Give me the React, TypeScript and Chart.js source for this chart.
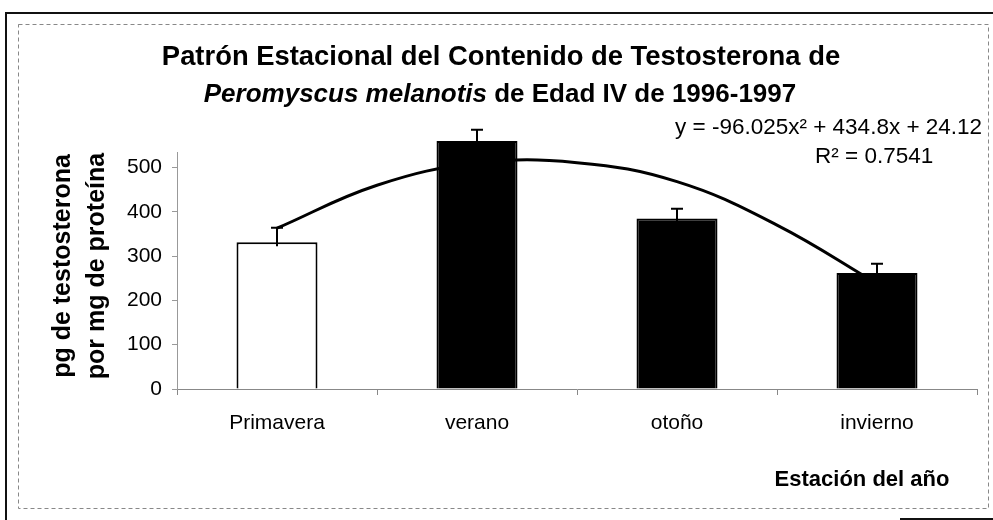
import React, { useEffect, useRef } from "react";
import { Chart, registerables } from "chart.js";

Chart.register(...registerables);

const categories = ["Primavera", "verano", "otoño", "invierno"];
const values = [331, 560, 385, 262];
const errors = [33, 25, 22, 21];
const barFills = ["#ffffff", "#000000", "#000000", "#000000"];
const trendX = [1, 1.5, 2, 2.5, 3, 3.5, 4];
const trendY = [363, 460, 510, 511, 468, 370, 238];
const yTicks = [0, 100, 200, 300, 400, 500];
const titleLine1 = "Patrón Estacional del Contenido de Testosterona de";
const titleItalic = "Peromyscus melanotis";
const titleRest = " de Edad IV de 1996-1997";
const yTitle = ["pg de testosterona", "por mg de proteína"];
const xTitle = "Estación del año";
const equation = "y = -96.025x² + 434.8x + 24.12";
const rSquared = "R² = 0.7541";

const FONT = '"Liberation Sans", Arial, sans-serif';

const decorPlugin = {
  id: "decor",
  beforeDraw(chart: any) {
    const ctx = chart.ctx;
    ctx.save();
    ctx.fillStyle = "#ffffff";
    ctx.fillRect(0, 0, chart.width, chart.height);
    ctx.strokeStyle = "#111";
    ctx.lineWidth = 2;
    ctx.beginPath();
    ctx.moveTo(6, 520);
    ctx.lineTo(6, 13);
    ctx.lineTo(993, 13);
    ctx.stroke();
    ctx.beginPath();
    ctx.moveTo(900, 519);
    ctx.lineTo(993, 519);
    ctx.stroke();
    ctx.strokeStyle = "#888";
    ctx.lineWidth = 1;
    ctx.setLineDash([4, 3]);
    ctx.strokeRect(18.5, 24.5, 970, 484);
    ctx.setLineDash([]);
    ctx.restore();
  },
  afterDraw(chart: any) {
    const ctx = chart.ctx;
    ctx.save();
    ctx.fillStyle = "#000";
    ctx.textBaseline = "middle";
    ctx.textAlign = "center";
    ctx.font = `bold 27.4px ${FONT}`;
    ctx.fillText(titleLine1, 501, 57);
    ctx.font = `italic bold 26px ${FONT}`;
    const w1 = ctx.measureText(titleItalic).width;
    ctx.font = `bold 26px ${FONT}`;
    const w2 = ctx.measureText(titleRest).width;
    const start = 500 - (w1 + w2) / 2;
    ctx.textAlign = "left";
    ctx.font = `italic bold 26px ${FONT}`;
    ctx.fillText(titleItalic, start, 95);
    ctx.font = `bold 26px ${FONT}`;
    ctx.fillText(titleRest, start + w1, 95);
    ctx.save();
    ctx.translate(63, 266);
    ctx.rotate(-Math.PI / 2);
    ctx.textAlign = "center";
    ctx.font = `bold 25px ${FONT}`;
    ctx.fillText(yTitle[0], 0, 0);
    ctx.fillText(yTitle[1], 0, 34);
    ctx.restore();
    ctx.textAlign = "center";
    ctx.font = `bold 22px ${FONT}`;
    ctx.fillText(xTitle, 862, 480);
    ctx.textAlign = "left";
    ctx.font = `22.5px ${FONT}`;
    ctx.fillText(equation, 675, 128);
    ctx.fillText(rSquared, 815, 157);
    ctx.restore();
  },
};

const errorBarPlugin = {
  id: "errorBars",
  afterDatasetDraw(chart: any, args: any) {
    if (args.index !== 0) return;
    const ctx = chart.ctx;
    const yScale = chart.scales.y;
    const meta = chart.getDatasetMeta(0);
    ctx.save();
    ctx.strokeStyle = "#000";
    ctx.lineWidth = 2;
    meta.data.forEach((bar: any, i: number) => {
      const x = bar.x;
      const yTop = yScale.getPixelForValue(values[i] + errors[i]);
      const yBase = yScale.getPixelForValue(values[i]) + 4;
      ctx.beginPath();
      ctx.moveTo(x, yBase);
      ctx.lineTo(x, yTop);
      ctx.moveTo(x - 6, yTop);
      ctx.lineTo(x + 6, yTop);
      ctx.stroke();
    });
    ctx.restore();
  },
};

export default function App() {
  const ref = useRef<HTMLCanvasElement>(null);
  useEffect(() => {
    if (!ref.current) return;
    const chart = new Chart(ref.current, {
      type: "bar",
      data: {
        labels: categories,
        datasets: [
          {
            type: "bar",
            data: values,
            backgroundColor: barFills,
            borderColor: "#000",
            borderWidth: 2,
            barPercentage: 0.405,
            categoryPercentage: 1,
            grouped: false,
            xAxisID: "x",
            yAxisID: "y",
            clip: false,
            order: 2,
          } as any,
          {
            type: "line",
            data: trendX.map((x, i) => ({ x, y: trendY[i] })),
            borderColor: "#000",
            borderWidth: 3,
            pointRadius: 0,
            tension: 0.4,
            fill: false,
            xAxisID: "x2",
            yAxisID: "y",
            clip: false,
            order: 1,
          } as any,
        ],
      },
      options: {
        animation: false,
        responsive: false,
        devicePixelRatio: 1,
        layout: { padding: { left: 0, right: 16, top: 152, bottom: 0 } },
        plugins: {
          legend: { display: false },
          tooltip: { enabled: false },
          title: { display: false },
        },
        scales: {
          x: {
            type: "category",
            offset: true,
            grid: {
              display: true,
              offset: true,
              drawOnChartArea: false,
              drawTicks: true,
              tickLength: 6,
              color: "#888",
            },
            border: { display: true, color: "#888", dash: [4, 3] },
            ticks: {
              color: "#000",
              font: { family: FONT, size: 21 },
              padding: 16,
            },
            afterFit: (s: any) => {
              s.height = 131;
            },
          },
          x2: {
            type: "linear",
            display: false,
            offset: false,
            grid: { offset: false },
            min: 0.5,
            max: 4.5,
          },
          y: {
            type: "linear",
            min: 0,
            max: 535,
            afterBuildTicks: (s: any) => {
              s.ticks = yTicks.map((v) => ({ value: v }));
            },
            grid: {
              display: true,
              drawOnChartArea: false,
              drawTicks: true,
              tickLength: 5,
              color: "#999",
            },
            border: { display: true, color: "#999", dash: [2, 3] },
            ticks: {
              color: "#000",
              font: { family: FONT, size: 21 },
              padding: 10,
            },
            afterFit: (s: any) => {
              s.width = 177;
            },
          },
        },
      },
      plugins: [decorPlugin, errorBarPlugin],
    });
    return () => chart.destroy();
  }, []);
  return (
    <div style={{ position: "fixed", left: 0, top: 0, width: 993, height: 520 }}>
      <canvas ref={ref} width={993} height={520} style={{ width: 993, height: 520, display: "block" }} />
    </div>
  );
}
